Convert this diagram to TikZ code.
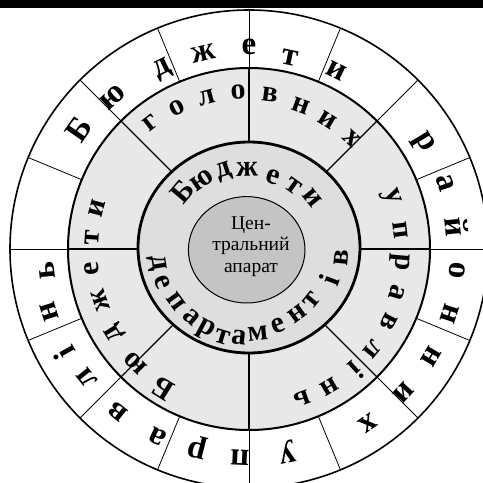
\documentclass[tikz,border=0pt]{standalone}
\usepackage{fontspec}
\setmainfont{Liberation Serif}
\definecolor{midring}{HTML}{E8E8E8}
\definecolor{inring}{HTML}{DEDEDE}
\definecolor{corefill}{HTML}{C4C4C4}
\begin{document}
\begin{tikzpicture}[x=1pt,y=1pt,
  outl/.style={font=\fontsize{33}{33}\selectfont\bfseries, inner sep=0pt},
  midl/.style={font=\fontsize{30}{30}\selectfont\bfseries, inner sep=0pt},
  innl/.style={font=\fontsize{30}{30}\selectfont\bfseries, inner sep=0pt},
  coretext/.style={font=\fontsize{19.5}{21.7}\selectfont, align=center, inner sep=0pt},
  thinsep/.style={line width=0.8pt},
  midsep/.style={line width=1.4pt}]
\useasboundingbox (0,0) rectangle (483,483);
\clip (0,0) rectangle (483,483);
\fill[white] (0,0) rectangle (483,483);
\begin{scope}[shift={(249,234)}]
  \draw[line width=1.6pt, fill=white] (0,0) circle (239);
  \foreach \a in {0,22.5,...,337.5} \draw[thinsep] (\a:181) -- (\a:239);
  \draw[line width=2pt, fill=midring] (0,0) circle (181);
  \foreach \a in {0,45,...,315} \draw[midsep] (0,0) -- (\a:181);
  \draw[line width=2.8pt, fill=inring] (0,1.5) ellipse [x radius=111, y radius=105.5];
  \draw[line width=1pt, fill=corefill] (-2.3,-0.8) ellipse [x radius=58.3, y radius=53.2];
  \node[coretext, name=core] at (2,2.5) {Цен-\\тральний\\апарат};
  % outer ring
  \foreach \ch/\a/\r [count=\i] in {Б/145/208, ю/131.8/204, д/115.7/199, ж/103/201, е/90/202, т/78/196, и/63.8/199,
      р/31.4/204, а/18.6/207, й/6/209, о/-5.8/209, н/-18/211, н/-30.5/211, и/-43/211, х/-55.6/211,
      у/-79.4/206, п/-92.5/209, р/-104.4/205, а/-115.8/209, в/-128.8/209, л/-141.5/207, і/-150.5/212, н/-162.4/209, ь/-174/203}
    \node[outl, name=o\i, rotate=\a-90] at (\a:\r) {\ch};
  % middle ring
  \foreach \ch/\a/\r [count=\i] in {Б/-121.7/164, ю/-135/161, д/-148/158, ж/-161/157, е/-173/158, т/176/157, и/165/157,
      г/127.9/160, о/116.9/158, л/105.4/157, о/94/157, в/82.3/156, н/70.2/152, и/58.5/151, х/47.1/151,
      у/20.2/151, п/7.1/153, р/-5/151, а/-16.6/154, в/-27.4/158, л/-39.2/159, і/-48.3/162, н/-59.8/160, ь/-70.3/159}
    \node[midl, name=m\i, rotate=\a-90] at (\a:\r) {\ch};
  % inner ring, top
  \foreach \ch/\a/\r [count=\i] in {Б/139.6/88, ю/124.3/83.5, д/108/81, ж/91.4/80, е/72/76, т/54.5/77, и/39/82}
    \node[innl, name=t\i, rotate=\a-90] at (\a:\r) {\ch};
  % inner ring, bottom
  \foreach \ch/\a/\r [count=\i] in {д/-171/93, е/-159/93, п/-144/90, а/-130.5/89, р/-118/92, т/-107/92, а/-96.5/89,
      м/-84/85, е/-69/82, н/-53.6/81, т/-39/81, і/-21/86, в/-5.5/93}
    \node[innl, name=b\i, rotate=\a+90] at (\a:\r) {\ch};
\end{scope}
\fill[black] (0,475) rectangle (483,483);
\end{tikzpicture}
\end{document}
